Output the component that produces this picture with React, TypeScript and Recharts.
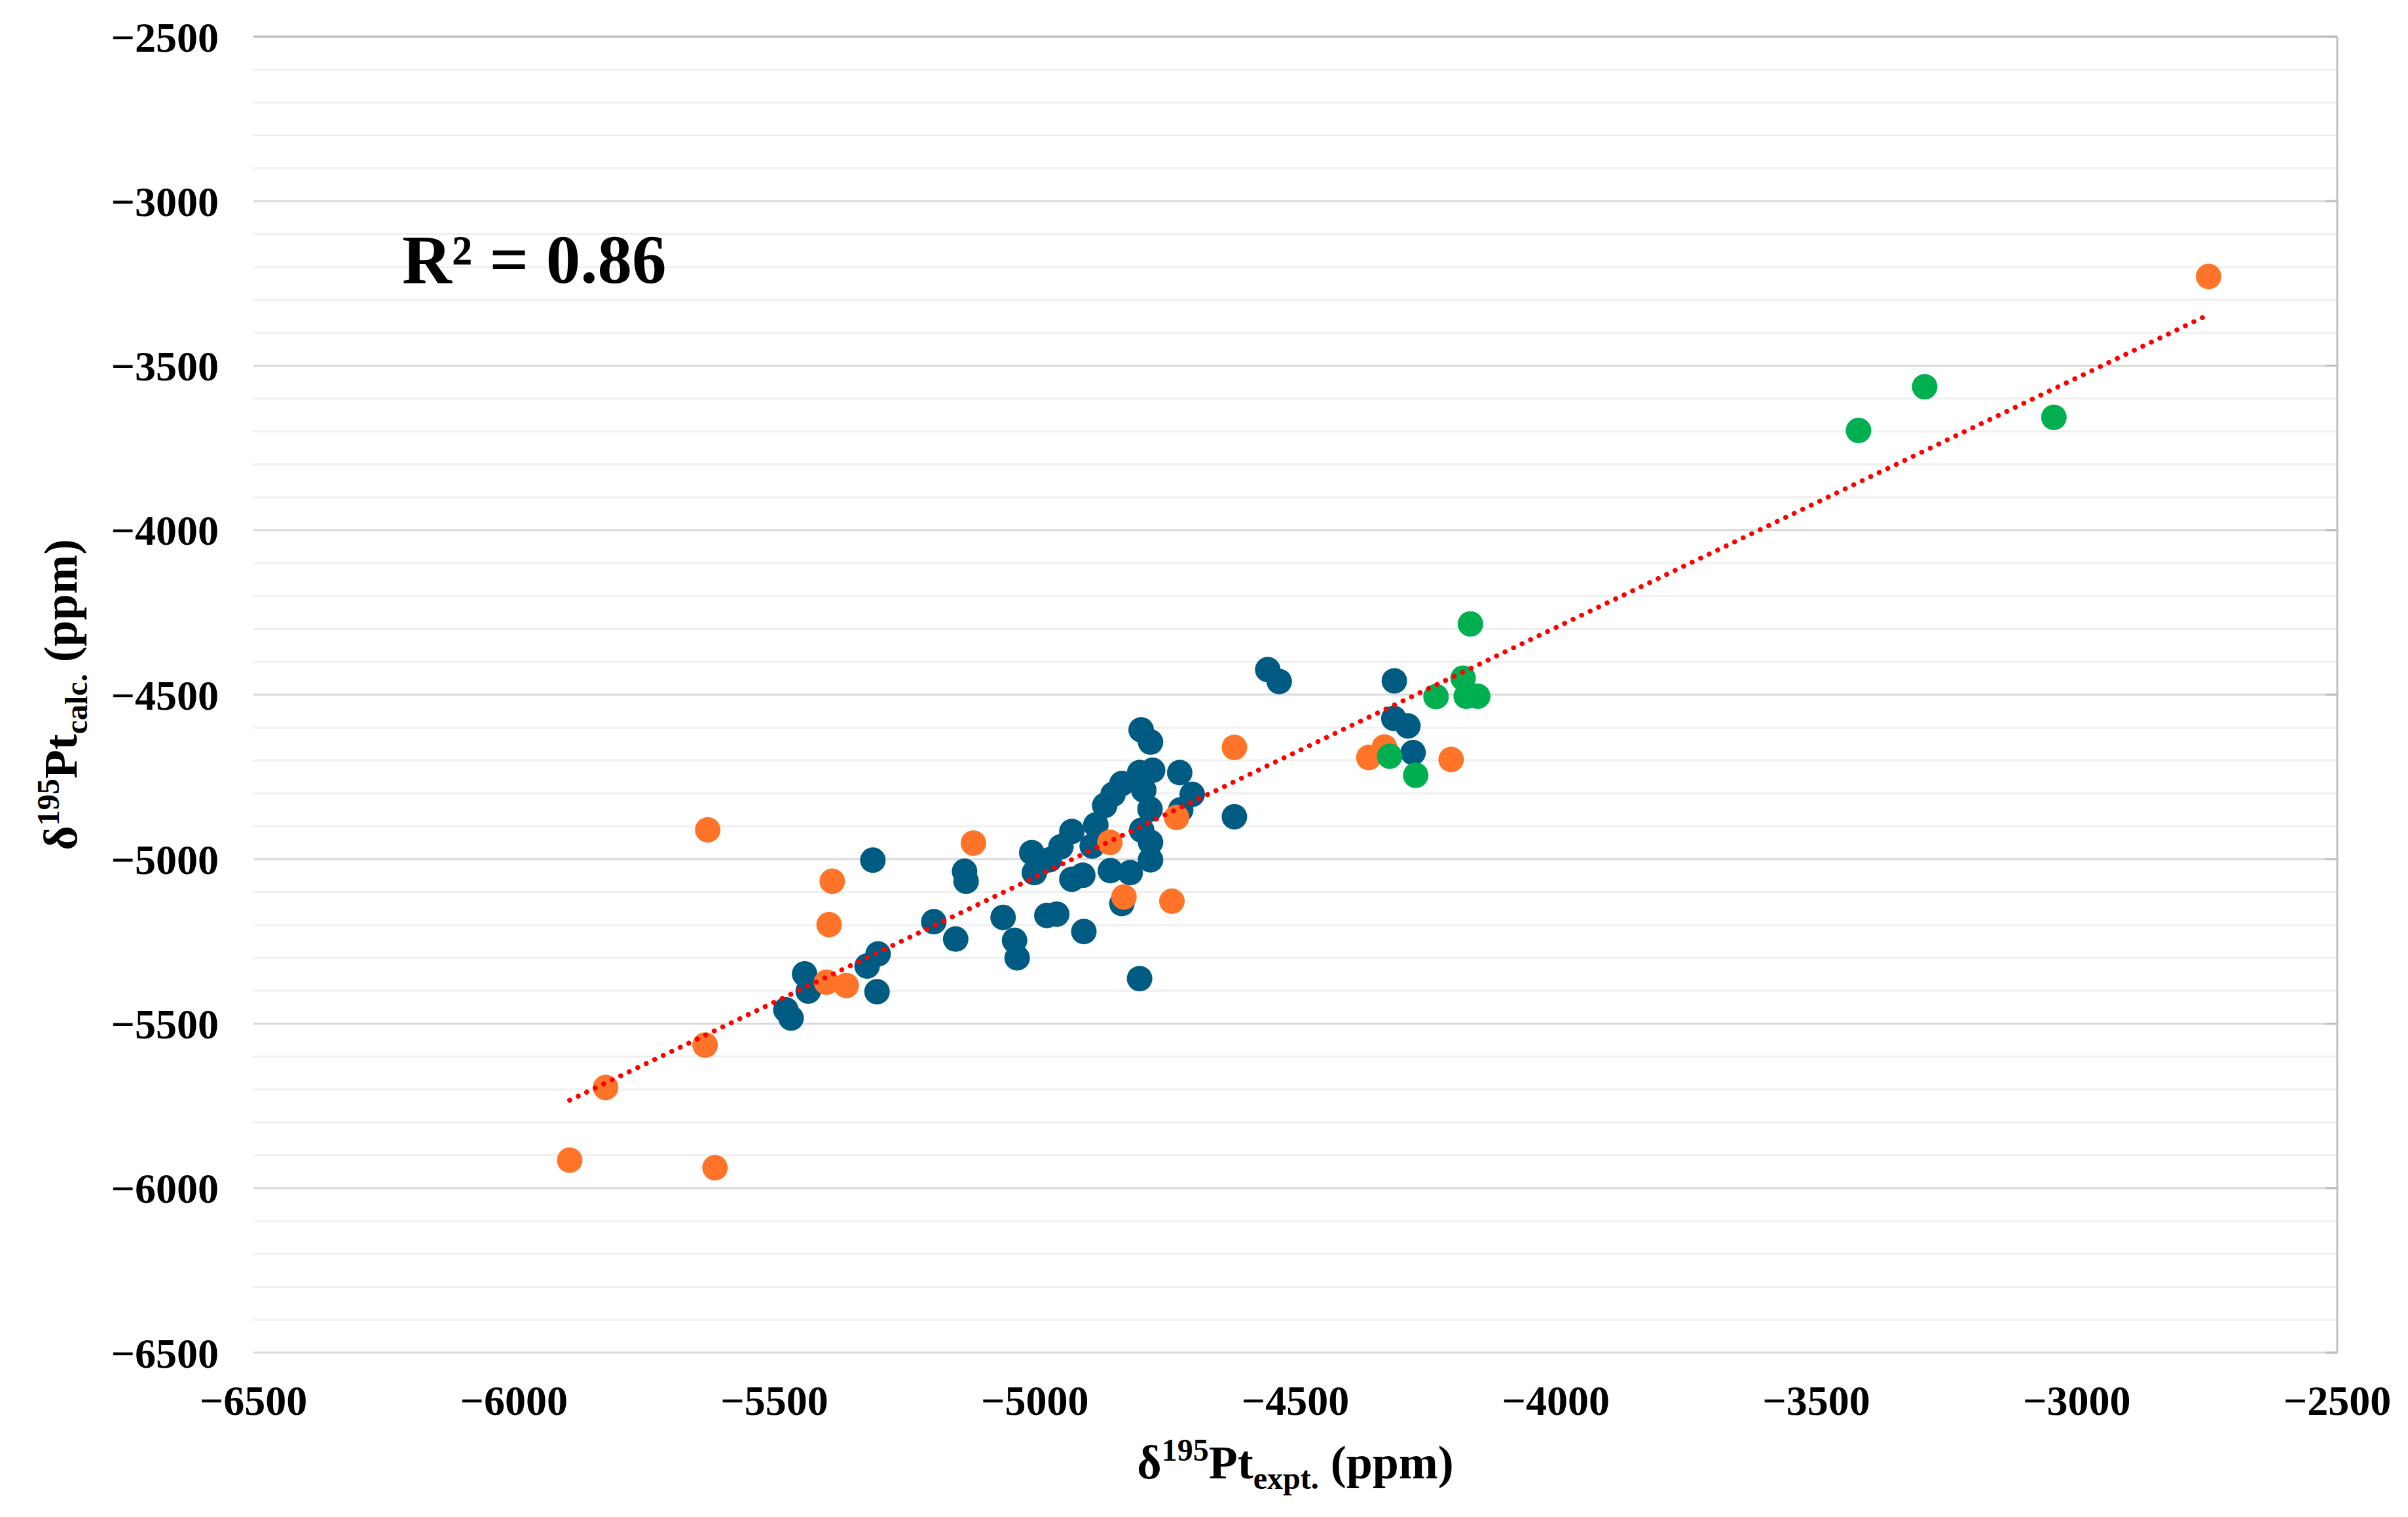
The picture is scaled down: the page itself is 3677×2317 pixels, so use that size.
import { ScatterChart, Scatter, XAxis, YAxis, CartesianGrid, ReferenceLine } from "recharts"

const FONT = "'Liberation Serif', 'Times New Roman', serif"

const X_TICKS = [-6500, -6000, -5500, -5000, -4500, -4000, -3500, -3000, -2500]
const Y_TICKS = [-6500, -6000, -5500, -5000, -4500, -4000, -3500, -3000, -2500]
const Y_MINOR = [
    -6400, -6300, -6200, -6100, -5900, -5800, -5700, -5600, -5400, -5300, -5200, -5100,
    -4900, -4800, -4700, -4600, -4400, -4300, -4200, -4100, -3900, -3800, -3700, -3600,
    -3400, -3300, -3200, -3100, -2900, -2800, -2700, -2600,
]

// [expt, calc] pairs, ppm
const BLUE: [number, number][] = [
    [-5478, -5458], [-5468, -5483], [-5442, -5349], [-5435, -5401], [-5322, -5325],
    [-5301, -5288], [-5303, -5403], [-5311, -5003], [-5194, -5190], [-5152, -5243],
    [-5135, -5037], [-5132, -5067], [-5061, -5177], [-5039, -5247], [-5034, -5300],
    [-5006, -4980], [-5001, -5041], [-4977, -5171], [-4958, -5167], [-4906, -5220],
    [-4799, -5363], [-4972, -5002], [-4950, -4962], [-4929, -4916], [-4929, -5061],
    [-4908, -5049], [-4890, -4960], [-4883, -4896], [-4866, -4837], [-4855, -5035],
    [-4850, -4803], [-4833, -4770], [-4833, -5135], [-4817, -5041], [-4799, -4737],
    [-4796, -4607], [-4795, -4912], [-4791, -4790], [-4779, -4848], [-4778, -4644],
    [-4778, -4949], [-4778, -5002], [-4774, -4730], [-4722, -4737], [-4720, -4850],
    [-4698, -4803], [-4617, -4871], [-4553, -4424], [-4531, -4460], [-4310, -4458],
    [-4311, -4572], [-4284, -4595], [-4274, -4676],
]

const ORANGE: [number, number][] = [
    [-5893, -5915], [-5824, -5694], [-5633, -5565], [-5628, -4911], [-5614, -5938],
    [-5395, -5199], [-5389, -5067], [-5400, -5374], [-5362, -5384], [-5118, -4951],
    [-4856, -4949], [-4829, -5115], [-4737, -5128], [-4728, -4873], [-4617, -4660],
    [-4359, -4691], [-4329, -4659], [-4201, -4697], [-2747, -3229],
]

const GREEN: [number, number][] = [
    [-4319, -4687], [-4269, -4745], [-4230, -4506], [-4178, -4450], [-4172, -4505],
    [-4150, -4505], [-4164, -4285], [-3419, -3697], [-3292, -3564], [-3044, -3657],
]

// linear trend
const TREND_SLOPE = 0.759
const TREND_INTERCEPT = -1260
const R2_TEXT = "R² = 0.86"

const toPoints = (pairs: [number, number][]) => pairs.map(([x, y]) => ({ x, y }))

const allX = [...BLUE, ...ORANGE, ...GREEN].map((p) => p[0])
const trendX = [Math.min(...allX), Math.max(...allX)]
const trendPoints = trendX.map((x) => ({ x, y: TREND_SLOPE * x + TREND_INTERCEPT }))

const fmt = (v: number) => String(v).replace("-", "\u2212")

const dot = (color: string) => (props: any) => (
    <circle cx={props.cx} cy={props.cy} r={19.5} fill={color} />
)

const tickStyle = { fontFamily: FONT, fontWeight: "bold", fontSize: 64, fill: "#000" }

function XTitle(props: any) {
    const vb = props.viewBox
    const cx = vb.x + vb.width / 2
    return (
        <text x={cx} y={vb.y + 192} textAnchor="middle" fontFamily={FONT} fontWeight="bold" fontSize={72} fill="#000">
            δ<tspan fontSize={48} dy={-27}>195</tspan>
            <tspan dy={27}>Pt</tspan>
            <tspan fontSize={48} dy={16}>expt.</tspan>
            <tspan dy={-16}>{"\u00a0(ppm)"}</tspan>
        </text>
    )
}

function YTitle(props: any) {
    const vb = props.viewBox
    const x = vb.x + 117
    const cy = vb.y + vb.height / 2
    return (
        <text x={x} y={cy} transform={`rotate(-90 ${x} ${cy})`} textAnchor="middle" fontFamily={FONT} fontWeight="bold" fontSize={72} fill="#000">
            δ<tspan fontSize={48} dy={-27}>195</tspan>
            <tspan dy={27}>Pt</tspan>
            <tspan fontSize={48} dy={16}>calc.</tspan>
            <tspan dy={-16}>{"\u00a0(ppm)"}</tspan>
        </text>
    )
}

export default function App() {

    return (

        <div style={{ position: "absolute", left: 0, top: 0, width: 3677, height: 2317, background: "#fff" }}>

            <ScatterChart width={3677} height={2317} margin={{ top: 56, right: 108, bottom: 101, left: 0 }}>

                <CartesianGrid vertical={false} stroke="#d9d9d9" strokeWidth={3} />

                {Y_MINOR.map((v) => (
                    <ReferenceLine key={v} y={v} stroke="#f0f0f0" strokeWidth={3} />
                ))}

                <XAxis
                    type="number"
                    dataKey="x"
                    domain={[-6500, -2500]}
                    ticks={X_TICKS}
                    allowDataOverflow
                    tickFormatter={fmt}
                    axisLine={false}
                    tickLine={false}
                    tickSize={0}
                    tickMargin={50}
                    height={150}
                    tick={tickStyle}
                    label={<XTitle />}
                />

                <XAxis
                    xAxisId="top"
                    type="number"
                    orientation="top"
                    mirror
                    domain={[-6500, -2500]}
                    ticks={X_TICKS}
                    allowDataOverflow
                    tickFormatter={() => ""}
                    axisLine={{ stroke: "#bfbfbf", strokeWidth: 3 }}
                    tickLine={{ stroke: "#bfbfbf", strokeWidth: 3 }}
                    tickSize={18}
                />

                <YAxis
                    type="number"
                    dataKey="y"
                    domain={[-6500, -2500]}
                    ticks={Y_TICKS}
                    allowDataOverflow
                    tickFormatter={fmt}
                    axisLine={false}
                    tickLine={false}
                    tickSize={0}
                    tickMargin={53}
                    width={387}
                    tick={tickStyle}
                    label={<YTitle />}
                />

                <YAxis
                    yAxisId="right"
                    type="number"
                    orientation="right"
                    mirror
                    domain={[-6500, -2500]}
                    ticks={Y_TICKS}
                    allowDataOverflow
                    tickFormatter={() => ""}
                    axisLine={{ stroke: "#bfbfbf", strokeWidth: 3 }}
                    tickLine={{ stroke: "#bfbfbf", strokeWidth: 3 }}
                    tickSize={18}
                />

                <Scatter data={toPoints(BLUE)} fill="#005B82" shape={dot("#005B82")} isAnimationActive={false} />
                <Scatter data={toPoints(ORANGE)} fill="#FF7428" shape={dot("#FF7428")} isAnimationActive={false} />
                <Scatter data={toPoints(GREEN)} fill="#00B050" shape={dot("#00B050")} isAnimationActive={false} />

                <Scatter
                    data={trendPoints}
                    line={{ stroke: "#FF0000", strokeWidth: 7.5, strokeDasharray: "0.1 14.3", strokeLinecap: "round" }}
                    shape={() => null}
                    isAnimationActive={false}
                />

            </ScatterChart>

            <div
                style={{
                    position: "absolute",
                    left: 614,
                    top: 344,
                    fontFamily: FONT,
                    fontWeight: "bold",
                    fontSize: 105,
                    lineHeight: 1,
                    color: "#000",
                    whiteSpace: "nowrap",
                }}
            >
                {R2_TEXT}
            </div>

        </div>

    )

}
